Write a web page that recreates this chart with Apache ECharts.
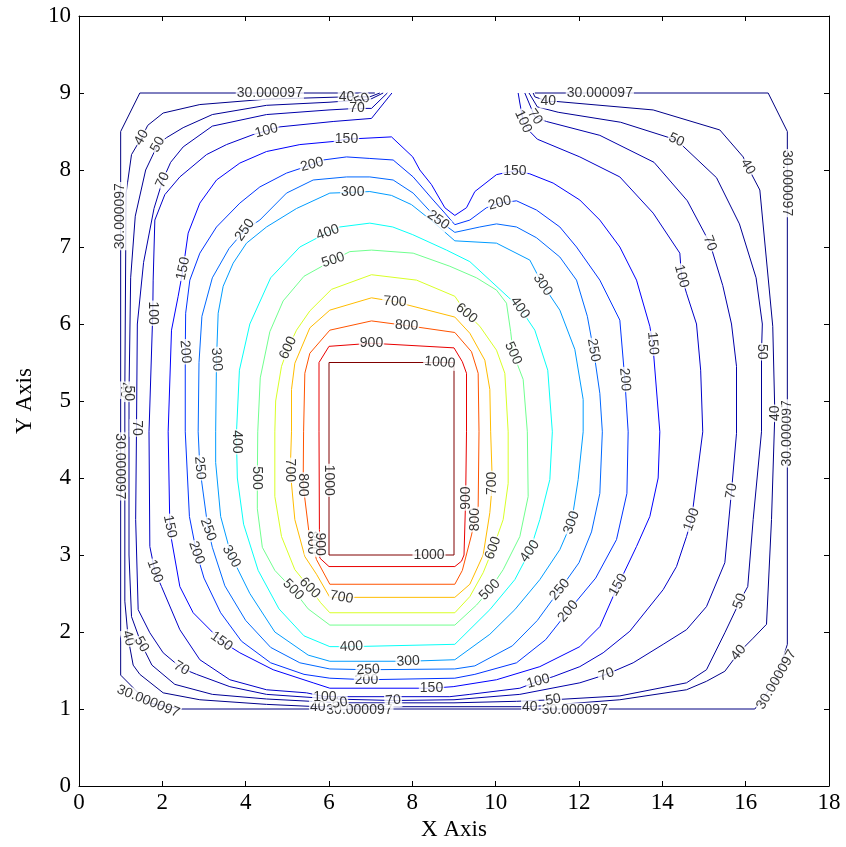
<!DOCTYPE html>
<html><head><meta charset="utf-8">
<script src="https://cdn.jsdelivr.net/npm/echarts@6/dist/echarts.min.js"></script>
<style>html,body{margin:0;padding:0;background:#fff}#c{width:846px;height:847px}</style>
</head><body><div id="c"></div>
<script>
// ---- contour levels ----
const levelNames = ['30.000097','40','50','70','100','150','200','250','300','400','500','600','700','800','900','1000'];
const levelValues = [30.000097,40,50,70,100,150,200,250,300,400,500,600,700,800,900,1000];

// ---- contour polylines (x, y in data units) ----
const c30 = [[7.1,9],[4.58,9],[1.46,9],[1,8.5],[1,7.4],[1,4.15],[1,1.44],[1.66,1.08],[2.46,1],[6.73,1],[11.9,1],[16.22,1],[16.74,1.38],[17,1.84],[17,4.58],[17,7.83],[17,8.5],[16.54,9],[12.5,9],[10.94,9]];
const c40 = [[7.22,9],[6.98,8.95],[6.42,8.95],[4.5,8.92],[2.9,8.85],[2.02,8.74],[1.65,8.58],[1.5,8.42],[1.26,8.2],[1.13,7.7],[1.1,5.14],[1.1,4.6],[1.1,2.4],[1.18,1.92],[1.3,1.57],[1.46,1.45],[2.02,1.21],[2.9,1.12],[4.5,1.06],[5.73,1.03],[9,1.03],[10.82,1.03],[12.98,1.12],[14.58,1.25],[15.06,1.36],[15.5,1.49],[15.83,1.73],[16.18,1.92],[16.5,2.1],[16.62,3.46],[16.7,4.84],[16.65,5.97],[16.34,7.74],[16.05,8.04],[15.94,8.17],[15.38,8.52],[13.78,8.78],[11.46,8.89],[11.26,8.89],[10.94,8.95],[10.9,9]];
const c50 = [[7.3,9],[7.0,8.92],[6.79,8.91],[6.0,8.88],[4.5,8.84],[3.2,8.72],[2.5,8.55],[2.1,8.42],[1.89,8.33],[1.6,8.0],[1.35,7.4],[1.24,6.6],[1.2,5.1],[1.2,4.6],[1.2,3.0],[1.26,2.2],[1.5,1.84],[1.75,1.57],[2.3,1.32],[3.2,1.19],[4.5,1.13],[6.26,1.08],[9,1.08],[10.5,1.1],[11.38,1.12],[12.98,1.17],[14.58,1.34],[15.06,1.51],[15.5,1.99],[15.86,2.4],[16.05,2.59],[16.18,3.46],[16.38,4.6],[16.38,5.64],[16.4,6.0],[16.25,6.6],[15.85,7.3],[15.3,7.9],[14.34,8.39],[13.0,8.62],[11.5,8.75],[11.0,8.82],[10.8,9]];
const c70 = [[7.4,9],[7.02,8.8],[6.67,8.8],[6.0,8.78],[4.5,8.72],[3.2,8.57],[2.5,8.3],[2.2,8.1],[2.01,7.87],[1.8,7.5],[1.55,6.8],[1.4,6.0],[1.38,4.65],[1.36,3.46],[1.42,2.29],[1.7,1.99],[2.02,1.73],[2.46,1.53],[2.82,1.45],[3.62,1.29],[4.5,1.19],[6.1,1.13],[7.54,1.11],[9,1.12],[10.58,1.19],[12.02,1.34],[12.66,1.45],[13.3,1.6],[14.02,1.84],[14.58,2.03],[15.06,2.33],[15.5,2.9],[15.66,3.83],[15.78,4.58],[15.78,5.45],[15.66,6.0],[15.45,6.5],[15.14,7.05],[14.6,7.6],[13.8,8.1],[12.5,8.45],[11.22,8.63],[10.94,8.69],[10.7,9]];
const c100 = [[7.51,9],[7.02,8.67],[6.1,8.63],[4.82,8.56],[4.5,8.51],[4.18,8.46],[3.54,8.33],[3.06,8.2],[2.42,7.91],[2.06,7.68],[1.82,7.35],[1.78,6.57],[1.77,6.14],[1.68,4.6],[1.7,3.11],[1.82,2.79],[1.98,2.59],[2.42,2.03],[2.9,1.64],[3.62,1.38],[4.5,1.25],[5.46,1.21],[5.9,1.16],[8.9,1.16],[9.38,1.19],[10.58,1.27],[11.02,1.36],[11.38,1.42],[12.02,1.55],[12.58,1.73],[13.22,2.01],[14.02,2.55],[14.34,2.85],[14.58,3.24],[14.7,3.46],[14.97,4.6],[14.92,5.4],[14.82,6.0],[14.58,6.4],[14.46,6.62],[14.42,6.92],[13.78,7.44],[12.98,7.91],[12.02,8.17],[11.0,8.4],[10.82,8.5],[10.66,8.63],[10.58,8.87],[10.54,9]];
const c150 = [[2.14,4.6],[2.22,5.92],[2.38,6.36],[2.5,6.72],[2.62,7.18],[2.9,7.57],[3.3,7.87],[3.86,8.09],[4.5,8.24],[5.3,8.33],[6.1,8.37],[6.42,8.4],[7.5,8.43],[8.01,8.17],[8.18,8.0],[8.46,7.81],[8.78,7.51],[9.02,7.41],[9.3,7.51],[9.5,7.72],[10.02,7.94],[10.46,7.99],[10.82,7.95],[11.38,7.83],[12.02,7.61],[12.5,7.35],[12.98,7.0],[13.38,6.57],[13.7,5.97],[13.77,5.75],[13.94,4.6],[13.9,4.0],[13.7,3.5],[13.38,3.11],[12.94,2.61],[12.5,2.07],[12.02,1.81],[11.06,1.55],[10.02,1.38],[8.98,1.29],[8.46,1.27],[6.02,1.27],[5.62,1.34],[4.66,1.51],[3.86,1.73],[3.42,1.88],[2.74,2.25],[2.42,2.59],[2.22,3.2],[2.18,3.37],[2.14,4.6]];
const c200 = [[2.55,4.6],[2.55,5.64],[2.56,6.14],[2.66,6.57],[2.9,6.92],[3.3,7.26],[3.86,7.57],[4.34,7.78],[4.98,7.96],[5.59,8.07],[5.86,8.13],[6.42,8.17],[6.98,8.15],[7.54,8.13],[8.02,7.91],[8.5,7.61],[8.78,7.44],[9.02,7.29],[9.38,7.35],[9.78,7.51],[10.1,7.57],[10.5,7.6],[10.98,7.48],[11.54,7.26],[11.94,7.0],[12.5,6.57],[12.98,6.05],[13.1,5.28],[13.18,4.6],[13.15,3.8],[12.9,3.2],[12.4,2.7],[11.74,2.27],[11.2,1.9],[10.5,1.6],[9.5,1.45],[9.02,1.4],[6.9,1.38],[6.02,1.4],[5.4,1.45],[4.6,1.6],[3.9,1.88],[3.4,2.25],[3.0,2.7],[2.82,3.03],[2.65,3.5],[2.55,4.6]];
const c250 = [[2.86,4.6],[2.88,5.5],[2.95,6.1],[3.2,6.6],[3.6,6.98],[3.98,7.22],[4.34,7.35],[4.98,7.7],[5.62,7.87],[6.42,7.91],[6.98,7.91],[7.54,7.87],[8.02,7.7],[8.62,7.35],[9.02,7.19],[9.62,7.26],[10.02,7.3],[10.5,7.26],[10.98,7.12],[11.54,6.87],[11.94,6.57],[12.2,6.1],[12.35,5.66],[12.5,5.1],[12.56,4.6],[12.5,3.8],[12.3,3.3],[12.0,2.9],[11.54,2.55],[11.0,2.15],[10.4,1.82],[9.5,1.56],[9.02,1.52],[6.94,1.51],[6.02,1.52],[5.3,1.6],[4.6,1.8],[4.0,2.15],[3.5,2.6],[3.2,3.1],[3.1,3.33],[2.9,4.13],[2.86,4.6]];
const c300 = [[3.28,4.6],[3.3,5.54],[3.34,6.14],[3.46,6.49],[3.7,6.79],[4.02,7.05],[4.5,7.26],[5.22,7.5],[6.02,7.7],[6.57,7.71],[6.98,7.72],[7.5,7.67],[7.98,7.55],[8.49,7.33],[9.02,7.08],[10.02,7.05],[10.82,6.83],[11.13,6.51],[11.54,6.18],[11.9,5.67],[12.1,5.02],[12.1,4.6],[11.98,3.98],[11.82,3.42],[11.54,3.07],[11.06,2.68],[10.46,2.29],[9.86,1.97],[9.02,1.64],[7.9,1.62],[6.02,1.62],[5.5,1.7],[4.7,2.0],[4.1,2.5],[3.66,2.98],[3.4,3.5],[3.28,4.2],[3.28,4.6]];
const c400 = [[3.78,4.6],[3.85,5.4],[4.1,6.0],[4.6,6.6],[5.3,7.0],[5.97,7.19],[6.26,7.26],[6.98,7.31],[7.53,7.26],[8.01,7.16],[8.82,6.96],[9.38,6.81],[9.86,6.57],[10.3,6.35],[10.58,6.21],[10.94,5.92],[11.25,5.4],[11.36,4.6],[11.3,3.98],[11.06,3.46],[10.82,3.05],[10.46,2.68],[9.86,2.29],[9.02,1.84],[6.54,1.81],[6.02,1.81],[5.4,1.95],[4.8,2.3],[4.3,2.8],[3.95,3.4],[3.8,4.0],[3.78,4.47],[3.78,4.6]];
const c500 = [[4.29,4.6],[4.35,5.3],[4.58,5.9],[4.9,6.3],[5.4,6.62],[6.1,6.83],[6.5,6.94],[7.02,6.96],[8.02,6.92],[8.9,6.75],[9.54,6.6],[10.02,6.44],[10.26,6.27],[10.36,5.9],[10.42,5.62],[10.66,5.28],[10.76,4.6],[10.78,3.76],[10.58,3.24],[10.18,2.81],[9.86,2.55],[9.54,2.35],[9.02,2.09],[6.02,2.09],[5.5,2.3],[5.14,2.55],[4.7,2.8],[4.4,3.1],[4.28,3.6],[4.28,4.0],[4.29,4.6]];
const c600 = [[4.7,4.6],[4.72,5.0],[4.86,5.45],[5.02,5.69],[5.22,5.92],[5.54,6.17],[6.06,6.45],[7.02,6.64],[8.1,6.57],[9.02,6.36],[9.3,6.14],[9.62,5.97],[10.02,5.66],[10.22,5.36],[10.3,4.6],[10.3,3.93],[10.18,3.46],[9.94,3.09],[9.7,2.77],[9.38,2.46],[9.02,2.25],[6.02,2.25],[5.8,2.38],[5.54,2.57],[5.18,2.81],[4.86,3.24],[4.7,3.76],[4.7,4.6]];
const c700 = [[5.18,5.49],[5.1,5.15],[5.1,4.6],[5.07,4.1],[5.18,3.46],[5.42,2.98],[5.7,2.75],[6.02,2.45],[9.02,2.45],[9.38,2.62],[9.7,3.0],[9.86,3.55],[9.92,3.93],[9.88,4.6],[9.86,5.15],[9.74,5.53],[9.38,5.88],[9.02,6.09],[7.58,6.29],[7.02,6.34],[6.02,6.18],[5.54,5.95],[5.18,5.49]];
const c800 = [[5.54,5.62],[5.42,5.36],[5.39,4.6],[5.38,3.91],[5.52,3.29],[5.7,2.94],[6.02,2.62],[9.02,2.62],[9.2,2.8],[9.42,3.26],[9.5,3.46],[9.58,3.63],[9.6,4.6],[9.58,5.36],[9.42,5.64],[9.02,5.89],[7.86,5.98],[7.02,6.04],[6.02,5.92],[5.54,5.62]];
const c900 = [[5.76,5.5],[5.76,4.6],[5.77,3.33],[5.78,2.96],[6.0,2.85],[9.02,2.85],[9.18,2.92],[9.24,3.0],[9.28,3.74],[9.3,4.6],[9.3,5.36],[9.2,5.51],[9.0,5.69],[7.02,5.75],[6.0,5.71],[5.76,5.5]];
const c1000 = [[6,5.5],[6,3],[9,3],[9,5.5],[6,5.5]];

// ---- contour label spots: [x, y, angle in degrees] ----
const l30 = [[4.58,9,0],[0.99,7.4,90],[0.99,4.15,-90],[1.66,1.1,-22],[6.73,0.98,0],[11.9,0.99,0],[16.74,1.38,60],[17,4.58,90],[17,7.83,-90],[12.5,9,0]];
const l40 = [[6.42,8.95,0],[1.5,8.42,60],[1.1,5.14,-90],[1.18,1.92,-75],[5.73,1.03,0],[10.82,1.03,0],[15.83,1.73,50],[16.7,4.84,90],[16.05,8.04,-60],[11.26,8.89,0]];
const l50 = [[6.79,8.91,25],[1.89,8.33,60],[1.2,5.1,-90],[1.5,1.84,-60],[6.26,1.08,10],[11.38,1.12,10],[15.86,2.4,70],[16.38,5.64,-90],[14.34,8.39,-25]];
const l70 = [[6.67,8.8,0],[2.01,7.87,65],[1.38,4.65,-90],[2.46,1.53,-30],[7.54,1.11,5],[12.66,1.45,20],[15.66,3.83,80],[15.14,7.05,-70],[10.94,8.69,-55]];
const l100 = [[4.5,8.51,15],[1.77,6.14,-90],[1.82,2.79,-70],[5.9,1.16,0],[11.02,1.36,15],[14.7,3.46,70],[14.46,6.62,-75],[10.66,8.63,-65]];
const l150 = [[6.42,8.4,0],[10.46,7.99,0],[13.77,5.75,-85],[12.94,2.61,60],[8.46,1.27,0],[3.42,1.88,-35],[2.18,3.37,-78],[2.5,6.72,78]];
const l200 = [[5.59,8.07,15],[10.1,7.57,15],[13.1,5.28,-85],[11.74,2.27,50],[6.9,1.38,0],[2.82,3.03,-70],[2.55,5.64,-85]];
const l250 = [[3.98,7.22,55],[8.62,7.35,-35],[12.35,5.66,-80],[11.54,2.55,50],[6.94,1.51,3],[3.1,3.33,-70],[2.9,4.13,-85]];
const l300 = [[6.57,7.71,0],[11.13,6.51,-55],[11.82,3.42,70],[7.9,1.62,3],[3.66,2.98,-60],[3.3,5.54,-85]];
const l400 = [[5.97,7.19,20],[10.58,6.21,-55],[10.82,3.05,55],[6.54,1.81,3],[3.78,4.47,-90]];
const l500 = [[6.1,6.83,18],[10.42,5.62,-65],[9.86,2.55,45],[5.14,2.55,-45],[4.28,4.0,-90]];
const l600 = [[5.02,5.69,65],[9.3,6.14,-40],[9.94,3.09,70],[5.54,2.57,-45]];
const l700 = [[7.58,6.29,-4],[9.92,3.93,90],[5.07,4.1,-90],[6.3,2.45,-10]];
const l800 = [[7.86,5.98,-3],[9.5,3.46,90],[5.38,3.91,-90],[5.58,3.16,-90]];
const l900 = [[7.02,5.75,0],[9.28,3.74,90],[5.78,3.14,-90]];
const l1000 = [[8.66,5.5,-5],[6.0,3.97,-90],[8.4,3.0,0]];

// ---- axis ticks ----
const xTicks = {min:0, max:18, step:2};
const yTicks = {min:0, max:10, step:1};

const contourLines = [c30,c40,c50,c70,c100,c150,c200,c250,c300,c400,c500,c600,c700,c800,c900,c1000];
const contourLabels = [l30,l40,l50,l70,l100,l150,l200,l250,l300,l400,l500,l600,l700,l800,l900,l1000];

function clamp(v){return Math.max(0,Math.min(1,v));}
function jet(t){
  const r = clamp(1.5-Math.abs(4*t-3)), g = clamp(1.5-Math.abs(4*t-2)), b = clamp(1.5-Math.abs(4*t-1));
  return 'rgb(' + Math.round(r*255) + ',' + Math.round(g*255) + ',' + Math.round(b*255) + ')';
}
const vMin = levelValues[0], vMax = levelValues[levelValues.length-1];

const series = [];
contourLines.forEach((pts, i) => {
  series.push({
    type:'line', data: pts, symbol:'none', showSymbol:false, silent:true, animation:false,
    lineStyle:{width:1, color: jet((levelValues[i]-vMin)/(vMax-vMin))}, z:2
  });
});
const labelData = [];
contourLabels.forEach((arr, i) => {
  arr.forEach(p => labelData.push({value:[p[0],p[1]], label:{rotate:p[2], formatter: levelNames[i]}}));
});
series.push({
  type:'scatter', data: labelData, symbolSize: 0.1, silent:true, animation:false, z:5,
  itemStyle:{color:'rgba(0,0,0,0)'},
  label:{show:true, position:'inside', color:'#000', fontSize:14,
    fontFamily:"'Liberation Sans', Arial, sans-serif", backgroundColor:'#fff', padding:[0,1], lineHeight:14}
});

const serif = "'Liberation Serif', 'Times New Roman', serif";
const axisLineStyle = {show:true, onZero:false, lineStyle:{color:'#000', width:1}};
const tickStyle = {show:true, inside:true, length:5, lineStyle:{color:'#000', width:1}};

const chart = echarts.init(document.getElementById('c'), null, {renderer:'canvas'});
chart.setOption({
  animation:false,
  backgroundColor:'#fff',
  grid:{left:79, right:17, top:16, bottom:61, containLabel:false},
  xAxis:[
    {type:'value', min:xTicks.min, max:xTicks.max, interval:xTicks.step, position:'bottom',
     axisLine:axisLineStyle, axisTick:tickStyle, splitLine:{show:false},
     axisLabel:{color:'#000', fontFamily:serif, fontSize:23, margin:5},
     name:'X Axis', nameLocation:'middle', nameGap:31,
     nameTextStyle:{color:'#000', fontFamily:serif, fontSize:23}},
    {type:'value', min:xTicks.min, max:xTicks.max, interval:xTicks.step, position:'top',
     axisLine:axisLineStyle, axisTick:tickStyle, splitLine:{show:false}, axisLabel:{show:false}}
  ],
  yAxis:[
    {type:'value', min:yTicks.min, max:yTicks.max, interval:yTicks.step, position:'left',
     axisLine:axisLineStyle, axisTick:tickStyle, splitLine:{show:false},
     axisLabel:{color:'#000', fontFamily:serif, fontSize:23, margin:8},
     name:'Y Axis', nameLocation:'middle', nameGap:43,
     nameTextStyle:{color:'#000', fontFamily:serif, fontSize:23}},
    {type:'value', min:yTicks.min, max:yTicks.max, interval:yTicks.step, position:'right',
     axisLine:axisLineStyle, axisTick:tickStyle, splitLine:{show:false}, axisLabel:{show:false}}
  ],
  series: series
});
</script>
</body></html>
